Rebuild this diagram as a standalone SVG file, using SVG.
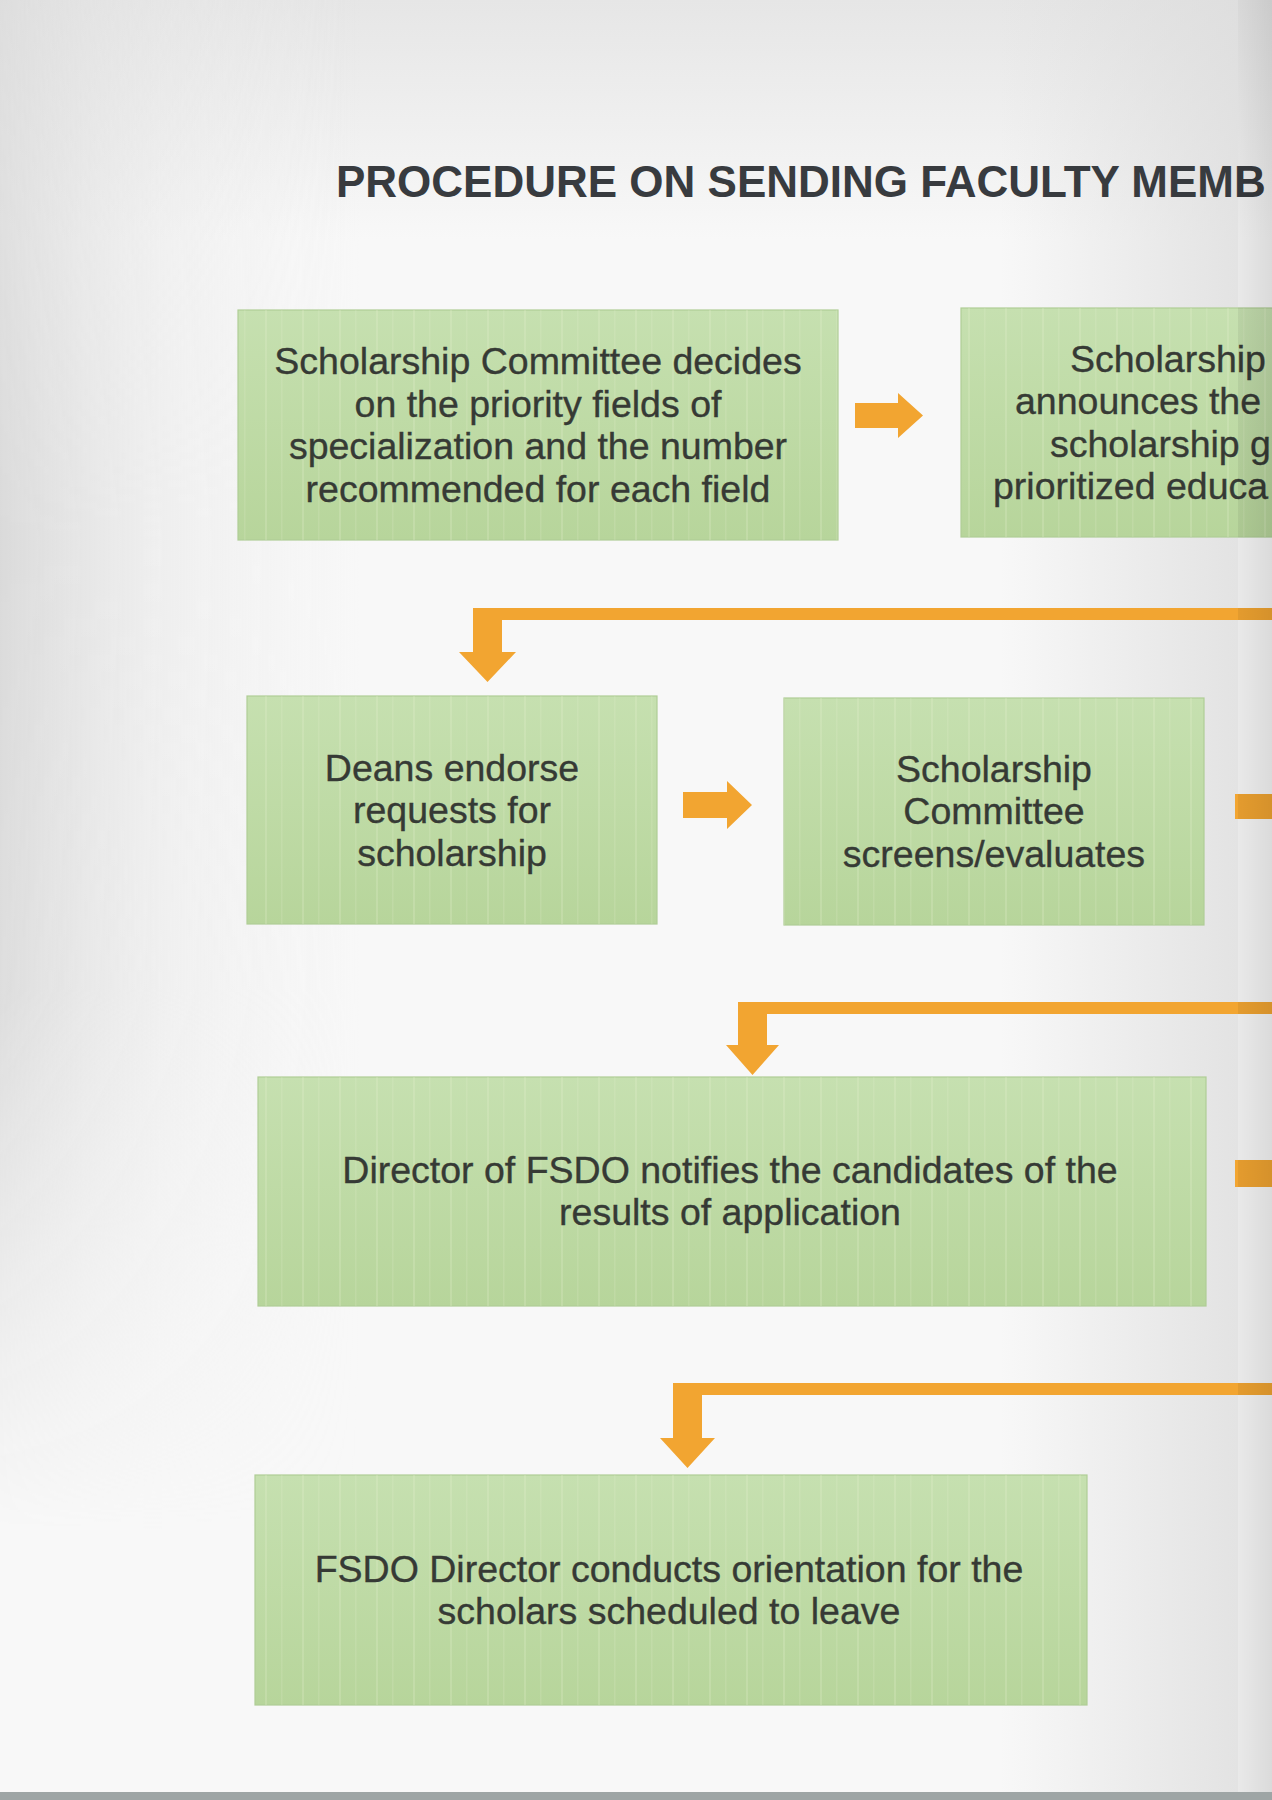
<svg xmlns="http://www.w3.org/2000/svg" width="1272" height="1800" viewBox="0 0 1272 1800">
  <defs>
    <linearGradient id="topShade" x1="0" y1="0" x2="0" y2="1">
      <stop offset="0" stop-color="#e6e6e6"/>
      <stop offset="1" stop-color="#e6e6e6" stop-opacity="0"/>
    </linearGradient>
    <linearGradient id="leftShade" x1="0" y1="0" x2="1" y2="0">
      <stop offset="0" stop-color="#dadada"/>
      <stop offset="0.45" stop-color="#e6e6e6" stop-opacity="0.5"/>
      <stop offset="1" stop-color="#eeeeee" stop-opacity="0"/>
    </linearGradient>
    <linearGradient id="leftFade" x1="0" y1="0" x2="0" y2="1">
      <stop offset="0" stop-color="#fff" stop-opacity="0.7"/>
      <stop offset="0.3" stop-color="#fff" stop-opacity="1"/>
      <stop offset="0.55" stop-color="#fff" stop-opacity="0.9"/>
      <stop offset="0.85" stop-color="#fff" stop-opacity="0"/>
    </linearGradient>
    <mask id="leftMask"><rect x="0" y="0" width="360" height="1800" fill="url(#leftFade)"/></mask>
    <linearGradient id="rightShade" x1="0" y1="0" x2="1" y2="0">
      <stop offset="0" stop-color="#dcdcdc" stop-opacity="0"/>
      <stop offset="1" stop-color="#dcdcdc" stop-opacity="0.75"/>
    </linearGradient>
    <linearGradient id="gutter" x1="0" y1="0" x2="1" y2="0">
      <stop offset="0" stop-color="#000" stop-opacity="0.06"/>
      <stop offset="1" stop-color="#000" stop-opacity="0.12"/>
    </linearGradient>
    <linearGradient id="boxFill" x1="0" y1="0" x2="0" y2="1">
      <stop offset="0" stop-color="#c6e0b0"/>
      <stop offset="1" stop-color="#b7d59b"/>
    </linearGradient>
    <pattern id="stripes" width="37" height="10" patternUnits="userSpaceOnUse">
      <rect x="6" y="0" width="2" height="10" fill="#e6f2d2" opacity="0.22"/>
      <rect x="22" y="0" width="1.5" height="10" fill="#e6f2d2" opacity="0.15"/>
    </pattern>
    <clipPath id="pageClip"><rect x="0" y="0" width="1272" height="1800"/></clipPath>
  </defs>
  <style>
    .box { fill: url(#boxFill); stroke: #b0cd96; stroke-width: 1.2; }
    .tex { fill: url(#stripes); }
    .t { font-family: "Liberation Sans", Arial, sans-serif; font-size: 37.5px; fill: #363a35; stroke: #363a35; stroke-width: 0.35; text-anchor: middle; }
    .ts { font-family: "Liberation Sans", Arial, sans-serif; font-size: 37.5px; fill: #363a35; stroke: #363a35; stroke-width: 0.35; text-anchor: start; }
    .title { font-family: "Liberation Sans", Arial, sans-serif; font-size: 44px; font-weight: bold; fill: #383b3f; }
    .conn { fill: #f2a531; }
  </style>

  <!-- background page -->
  <rect x="0" y="0" width="1272" height="1800" fill="#f8f8f8"/>
  <rect x="0" y="0" width="1272" height="240" fill="url(#topShade)"/>
  <rect x="0" y="0" width="360" height="1800" fill="url(#leftShade)" mask="url(#leftMask)"/>
  <rect x="1000" y="0" width="238" height="1792" fill="url(#rightShade)"/>

  <text class="title" x="336" y="197">PROCEDURE ON SENDING FACULTY MEMB</text>

  <!-- nodes -->
  <g id="node-1">
    <rect class="box" x="238" y="310" width="600" height="230"/>
    <rect class="tex" x="238" y="310" width="600" height="230"/>
    <text class="t" x="538" y="374">Scholarship Committee decides</text>
    <text class="t" x="538" y="417">on the priority fields of</text>
    <text class="t" x="538" y="459">specialization and the number</text>
    <text class="t" x="538" y="502">recommended for each field</text>
  </g>
  <g id="node-2" clip-path="url(#pageClip)">
    <rect class="box" x="961" y="308" width="320" height="229"/>
    <rect class="tex" x="961" y="308" width="320" height="229"/>
    <text class="ts" x="1070" y="372">Scholarship</text>
    <text class="ts" x="1015" y="414">announces the</text>
    <text class="ts" x="1050" y="457">scholarship g</text>
    <text class="ts" x="993" y="499">prioritized educa</text>
  </g>
  <g id="node-3">
    <rect class="box" x="247" y="696" width="410" height="228"/>
    <rect class="tex" x="247" y="696" width="410" height="228"/>
    <text class="t" x="452" y="781">Deans endorse</text>
    <text class="t" x="452" y="823">requests for</text>
    <text class="t" x="452" y="866">scholarship</text>
  </g>
  <g id="node-4">
    <rect class="box" x="784" y="698" width="420" height="227"/>
    <rect class="tex" x="784" y="698" width="420" height="227"/>
    <text class="t" x="994" y="782">Scholarship</text>
    <text class="t" x="994" y="824">Committee</text>
    <text class="t" x="994" y="867">screens/evaluates</text>
  </g>
  <g id="node-5">
    <rect class="box" x="258" y="1077" width="948" height="229"/>
    <rect class="tex" x="258" y="1077" width="948" height="229"/>
    <text class="t" x="730" y="1183">Director of FSDO notifies the candidates of the</text>
    <text class="t" x="730" y="1225">results of application</text>
  </g>
  <g id="node-6">
    <rect class="box" x="255" y="1475" width="832" height="230"/>
    <rect class="tex" x="255" y="1475" width="832" height="230"/>
    <text class="t" x="669" y="1582">FSDO Director conducts orientation for the</text>
    <text class="t" x="669" y="1624">scholars scheduled to leave</text>
  </g>

  <!-- connectors -->
  <g id="connectors">
    <polygon class="conn" points="855,403 898,403 898,393 923,415.5 898,438 898,428 855,428"/>
    <polygon class="conn" points="1272,608 473,608 473,652 459,652 487.5,682 516,652 502,652 502,620 1272,620"/>
    <polygon class="conn" points="683,792 727,792 727,781 752,805 727,829 727,818 683,818"/>
    <rect class="conn" x="1235" y="794" width="37" height="25"/>
    <polygon class="conn" points="1272,1002 738,1002 738,1045 726,1045 752.5,1075 779,1045 767,1045 767,1014 1272,1014"/>
    <rect class="conn" x="1235" y="1160" width="37" height="27"/>
    <polygon class="conn" points="1272,1383 673,1383 673,1438 660,1438 687.5,1468 715,1438 702,1438 702,1395 1272,1395"/>
  </g>

  <!-- gutter and bottom edge -->
  <rect x="1238" y="0" width="34" height="1800" fill="url(#gutter)"/>
  <rect x="0" y="1792" width="1272" height="8" fill="#9ea5a5"/>
</svg>
